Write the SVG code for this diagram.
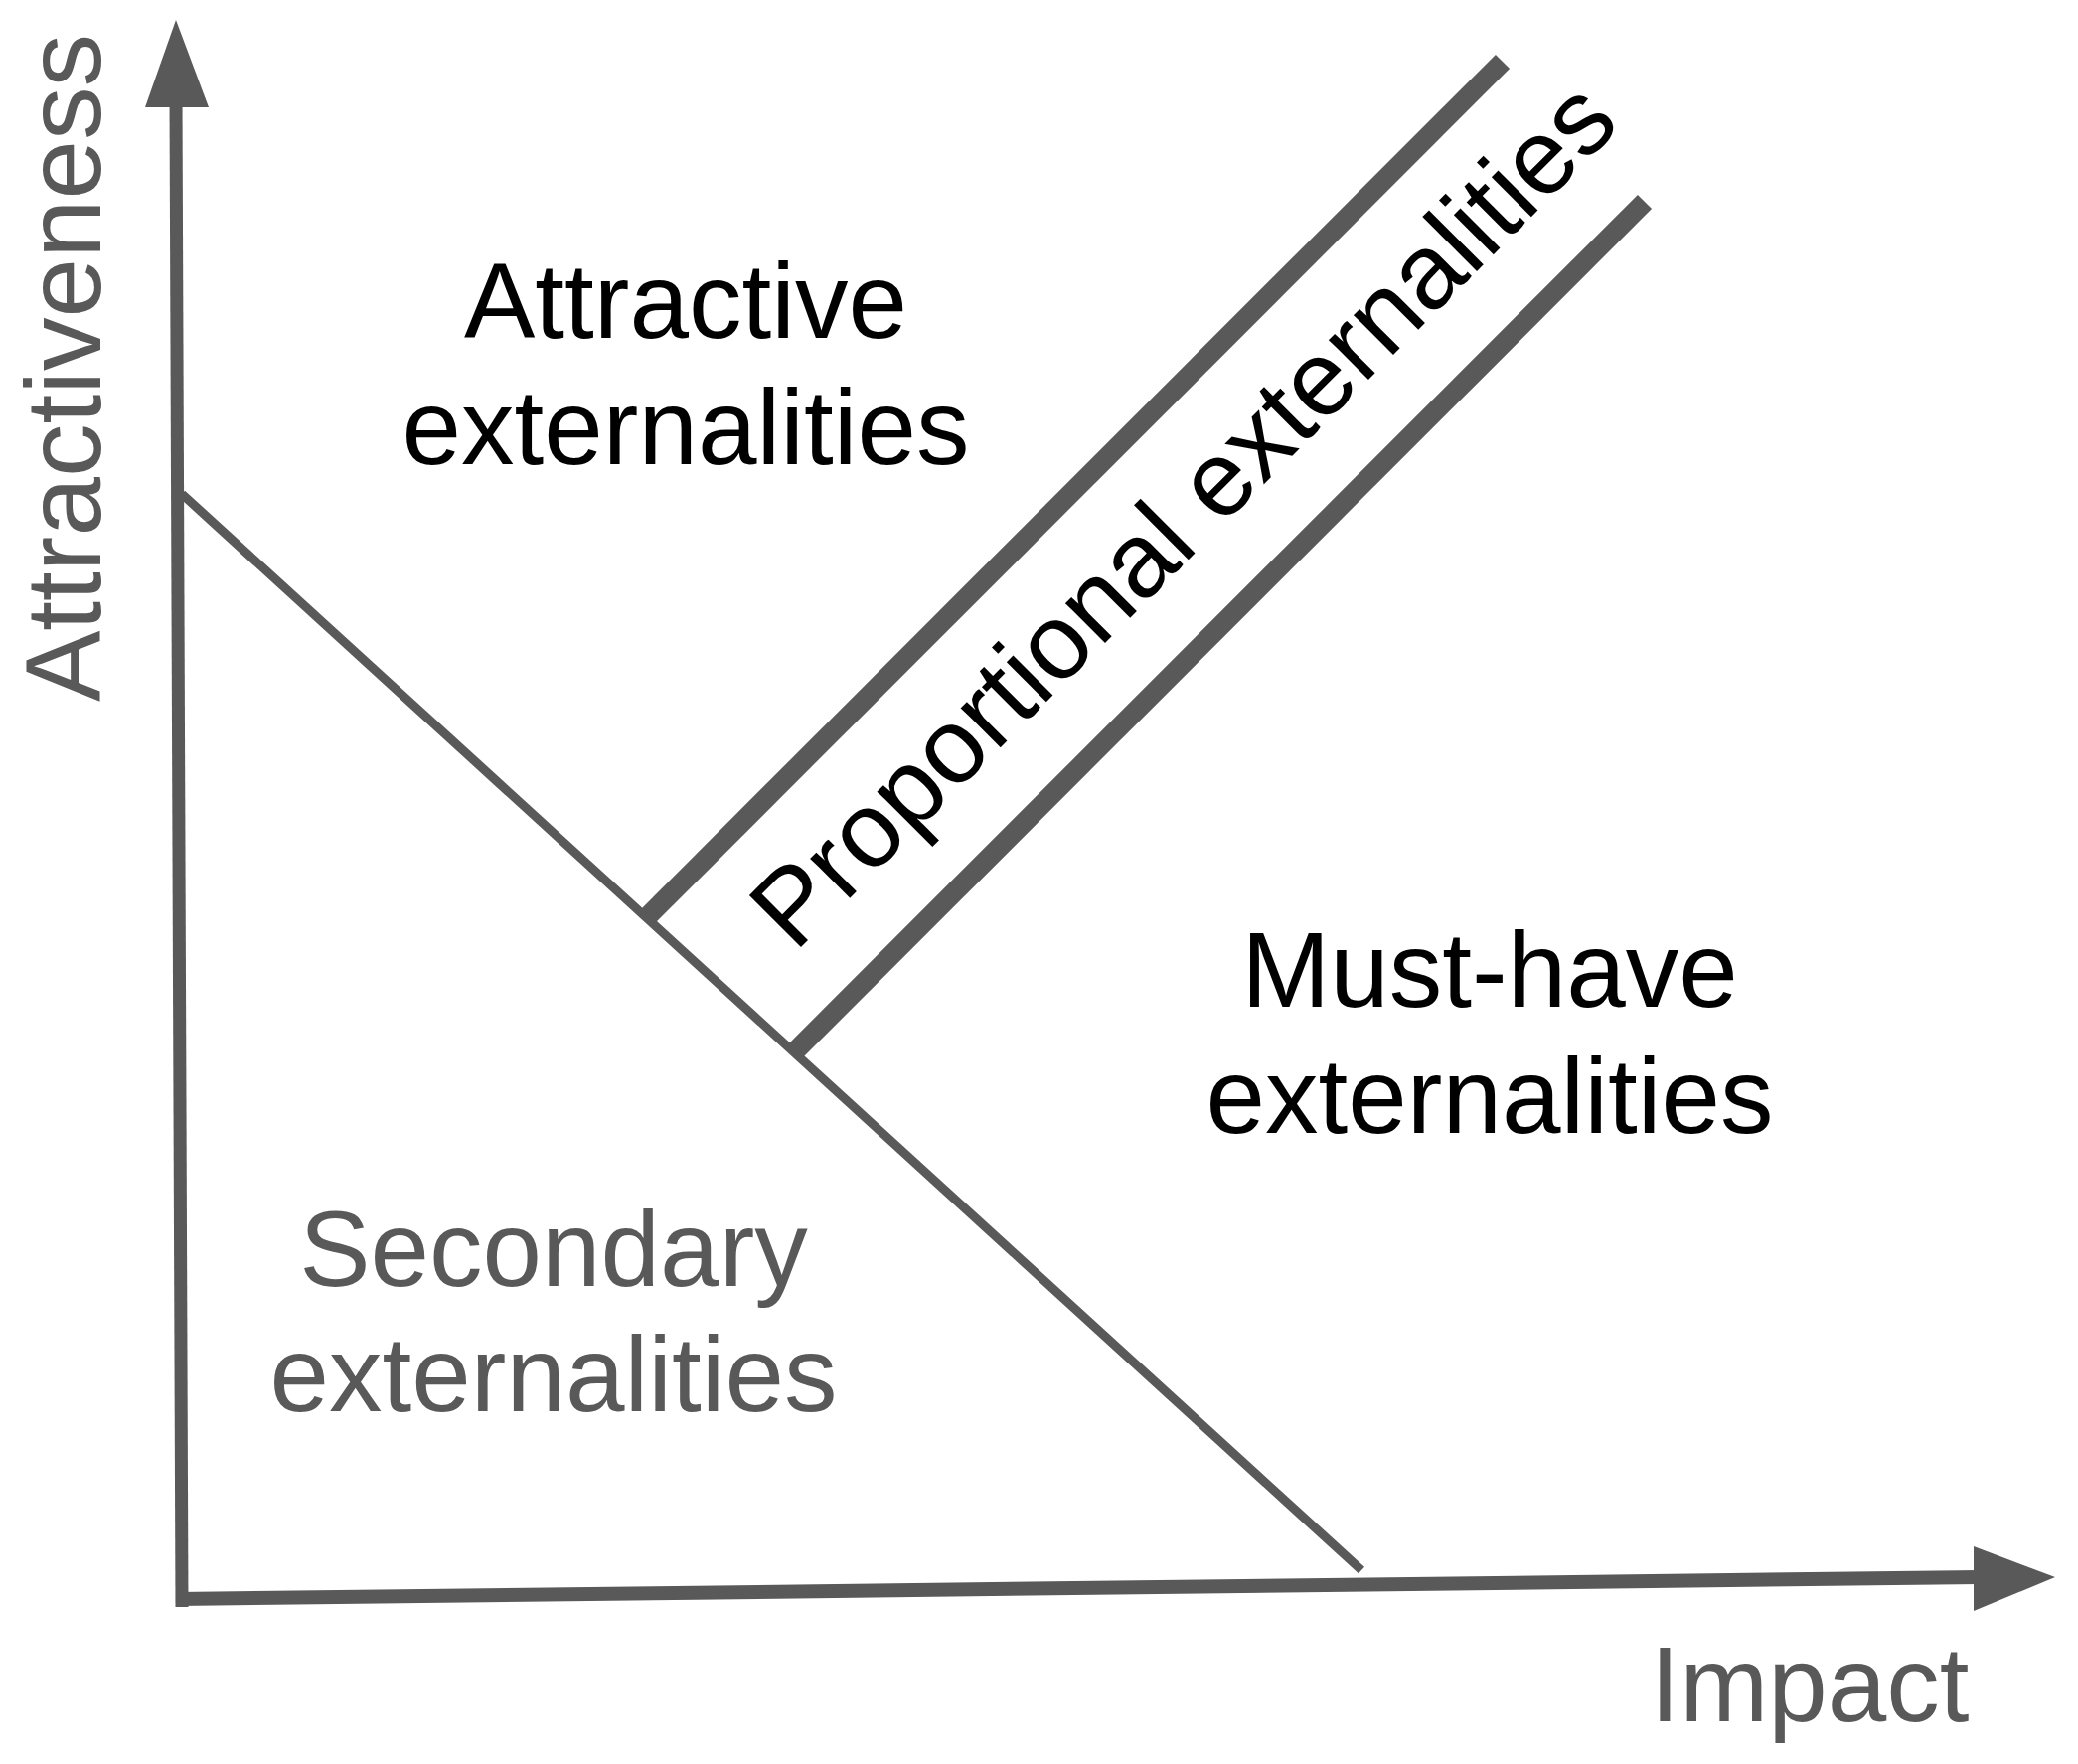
<svg xmlns="http://www.w3.org/2000/svg" width="2091" height="1775" viewBox="0 0 2091 1775">
<style>
.ax{stroke:#595959;stroke-width:13;fill:none}
.thin{stroke:#595959;stroke-width:9;fill:none}
.thick{stroke:#595959;stroke-width:20;fill:none}
.head{fill:#595959}
.lbl{font-family:"Liberation Sans",Arial,sans-serif;font-size:107px;text-anchor:middle}
.blk{fill:#000}
.gry{fill:#595959}
</style>
<rect width="2091" height="1775" fill="#fff"/>
<g id="axes">
<line class="ax" x1="183" y1="1617" x2="177" y2="100"/>
<polygon class="head" points="177,20 146,108 210,108"/>
<line class="ax" x1="178" y1="1609" x2="1992" y2="1587" style="stroke-width:14"/>
<polygon class="head" points="1986,1556 2068,1587 1986,1621"/>
</g>
<g id="connectors">
<line class="thin" x1="183" y1="497" x2="1370" y2="1580"/>
<line class="thick" x1="653" y1="921" x2="1512" y2="62"/>
<line class="thick" x1="800" y1="1058" x2="1655" y2="203"/>
</g>
<g id="attractive"><text class="lbl blk" x="690" y="340">Attractive</text><text class="lbl blk" x="690" y="467">externalities</text></g>
<g id="musthave"><text class="lbl blk" x="1499" y="1013">Must-have</text><text class="lbl blk" x="1499" y="1140">externalities</text></g>
<g id="secondary"><text class="lbl gry" x="557" y="1294">Secondary</text><text class="lbl gry" x="557" y="1420">externalities</text></g>
<g id="proportional"><text class="lbl blk" transform="translate(1216,543) rotate(-45)">Proportional externalities</text></g>
<g id="ylabel"><text class="lbl gry" transform="translate(101,370) rotate(-90)">Attractiveness</text></g>
<g id="xlabel"><text class="lbl gry" x="1821" y="1732">Impact</text></g>
</svg>
